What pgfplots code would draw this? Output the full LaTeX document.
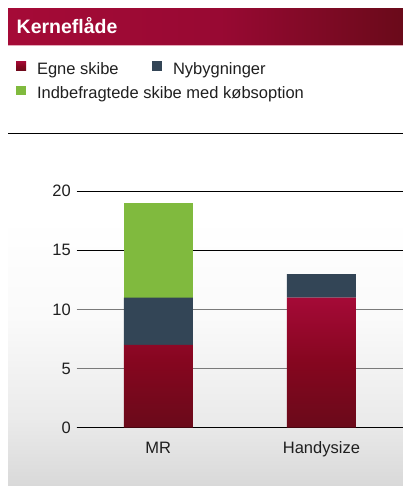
\documentclass[border=0pt]{standalone}
\usepackage{fontspec}
\setmainfont{Liberation Sans}
\usepackage{pgfplots}
\pgfplotsset{compat=1.18}
\definecolor{egtop}{HTML}{A50A37}
\definecolor{egmid}{HTML}{85061F}
\definecolor{egbot}{HTML}{6A0A1A}
\definecolor{nyb}{HTML}{334556}
\definecolor{indb}{HTML}{80BA3E}
\definecolor{pinkline}{HTML}{E4A8B8}
\definecolor{gridgray}{HTML}{7A7A7A}
\pgfdeclareverticalshading{bgshade}{100bp}{color(0bp)=(black!15); color(25bp)=(black!15); color(35bp)=(black!8); color(50bp)=(black!2); color(65bp)=(white); color(100bp)=(white)}
\pgfdeclarehorizontalshading{titleshade}{100bp}{color(0bp)=(egtop); color(25bp)=(egtop); color(52bp)=(egtop!92!black); color(75bp)=(egbot); color(100bp)=(egbot)}
\newcommand\lstrut{\rule[-7pt]{0pt}{24pt}}
\begin{document}
\begin{tikzpicture}
\useasboundingbox (0pt,0pt) rectangle (403pt,-486pt);
\shade[shading=bgshade] (8pt,-150pt) rectangle (403pt,-486pt);
\shade[shading=titleshade] (8pt,-9pt) rectangle (403pt,-45.5pt);
\draw[pinkline, line width=0.8pt] (8pt,-45.6pt) -- (403pt,-45.6pt);
\node[anchor=base west, text=white, font=\fontsize{19.5}{22}\bfseries\selectfont, inner sep=0pt] at (16.5pt,-33.5pt) {Kerneflåde};
\draw[black, line width=1pt] (8pt,-134pt) -- (403pt,-134pt);
\begin{axis}[
  at={(76.7pt,-427.7pt)}, anchor=south west,
  scale only axis, width=326.3pt, height=236.4pt,
  xmin=-0.5, xmax=1.5, ymin=0, ymax=20,
  ybar stacked, bar width=69pt,
  xtick={0,1}, xticklabels={MR,Handysize},
  ytick={0,15,20}, extra y ticks={5,10},
  extra y tick style={grid style={gridgray, line width=0.9pt}},
  ymajorgrids, grid style={black, line width=0.9pt},
  axis x line=bottom, axis y line=left,
  axis line style={-},
  y axis line style={draw=none},
  x axis line style={line width=1.4pt, black},
  major tick length=0pt, tick style={draw=none},
  /pgf/number format/assume math mode=true,
  tick label style={font=\fontsize{16.5}{19}\selectfont, text=black!88},
  yticklabel style={anchor=east, inner sep=0pt, xshift=-5.7pt},
  xticklabel style={anchor=base, inner sep=0pt, yshift=-25.6pt},
  legend columns=2,
  legend style={at={(axis description cs:-0.18602,1.5681)}, anchor=north west,
    draw=none, fill=none, inner sep=0pt, outer sep=0pt,
    column sep=0pt, row sep=6pt,
    nodes={inner sep=0pt, outer sep=0pt},
    font=\fontsize{16.5}{19}\selectfont, text=black!88},
  legend cell align=left,
  legend image code/.code={\fill[#1] (0pt,-4.7pt) rectangle (10pt,5pt);},
]
\addplot[draw=none, top color=egtop, bottom color=egbot, middle color=egmid] coordinates {(0,7) (1,11)};
\addlegendentry{\lstrut\hspace*{11pt}\makebox[115pt][l]{Egne skibe}}
\addplot[draw=none, fill=nyb] coordinates {(0,4) (1,2)};
\addlegendentry{\lstrut\hspace*{11pt}Nybygninger}
\addplot[draw=none, fill=indb] coordinates {(0,8) (1,0)};
\addlegendentry{\lstrut\hspace*{11pt}\rlap{Indbefragtede skibe med købsoption}}
\end{axis}
\end{tikzpicture}
\end{document}
